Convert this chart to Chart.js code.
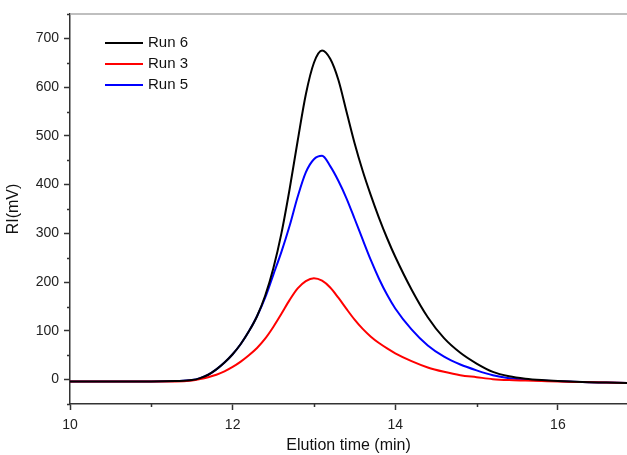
<!DOCTYPE html>
<html>
<head>
<meta charset="utf-8">
<script src="https://cdn.jsdelivr.net/npm/chart.js@4"></script>
<style>
  html, body { margin: 0; padding: 0; background: #fff; }
  #wrap { width: 627px; height: 455px; }
</style>
</head>
<body>
<div id="wrap"><canvas id="gpcChart"></canvas></div>
<script>
// === DATA ===
const time = [10, 10.5, 11, 11.3, 11.5, 11.6, 11.7, 11.8, 11.9, 12.0, 12.1, 12.2, 12.3, 12.4, 12.5,
  12.6, 12.7, 12.8, 12.9, 13.0, 13.1, 13.2, 13.3, 13.4, 13.5, 13.6, 13.7, 13.8, 13.9, 14.0,
  14.2, 14.4, 14.6, 14.8, 15.0, 15.2, 15.4, 15.6, 15.8, 16.0, 16.3, 16.6, 16.9];
const run6 = [-4, -4, -4, -3, -1, 3, 10, 21, 35, 52, 73, 99, 130, 172, 228,
  300, 390, 490, 585, 650, 675, 658, 615, 550, 485, 428, 378, 332, 290, 252,
  185, 128, 85, 55, 33, 16, 7, 2, -1, -3, -5, -6, -7];
const run3 = [-4, -4, -4, -4, -2, 1, 5, 10, 17, 26, 37, 50, 65, 84, 108,
  135, 163, 187, 202, 208, 203, 189, 168, 145, 123, 104, 88, 75, 64, 54,
  38, 25, 16, 9, 5, 1, -1, -2, -3, -4, -5, -6, -7];
const run5 = [-4, -4, -4, -3, -1, 3, 10, 21, 35, 52, 73, 99, 130, 168, 215,
  262, 315, 375, 425, 452, 459, 438, 408, 372, 330, 287, 245, 207, 174, 146,
  103, 70, 47, 31, 19, 9, 3, 0, -2, -3, -5, -6, -7];
const xTicks = [10, 12, 14, 16];
const yTicks = [0, 100, 200, 300, 400, 500, 600, 700];

const FONT = '"Liberation Sans", Arial, sans-serif';
const toPoints = ys => ys.map((y, i) => ({ x: time[i], y }));

// minor ticks (shorter), top frame line and legend inside the plot
const decor = {
  id: 'decor',
  afterDraw(chart) {
    const { ctx, chartArea: a, scales: { x, y } } = chart;
    ctx.save();
    // top frame
    ctx.strokeStyle = '#aaa';
    ctx.lineWidth = 1.5;
    ctx.beginPath();
    ctx.moveTo(a.left, a.top);
    ctx.lineTo(a.right, a.top);
    ctx.stroke();
    // minor ticks
    ctx.strokeStyle = '#333';
    ctx.lineWidth = 1.5;
    ctx.beginPath();
    for (let v = -50; v <= 750; v += 100) {
      const py = Math.round(y.getPixelForValue(v)) + 0.5;
      ctx.moveTo(a.left - 3, py);
      ctx.lineTo(a.left, py);
    }
    for (let v = 11; v <= 16; v += 2) {
      const px = Math.round(x.getPixelForValue(v)) + 0.5;
      ctx.moveTo(px, a.bottom);
      ctx.lineTo(px, a.bottom + 3);
    }
    ctx.stroke();
    // legend
    ctx.font = '15px ' + FONT;
    ctx.textBaseline = 'middle';
    ctx.fillStyle = '#111';
    chart.data.datasets.forEach((ds, i) => {
      const ly = 43 + i * 21;
      ctx.strokeStyle = ds.borderColor;
      ctx.lineWidth = 2;
      ctx.beginPath();
      ctx.moveTo(105, ly);
      ctx.lineTo(143, ly);
      ctx.stroke();
      ctx.fillText(ds.label, 148, ly);
    });
    ctx.restore();
  }
};

const gpcCtx = document.getElementById('gpcChart').getContext('2d');
new Chart(gpcCtx, {
  type: 'line',
  data: {
    datasets: [
      { label: 'Run 6', data: toPoints(run6), borderColor: '#000000' },
      { label: 'Run 3', data: toPoints(run3), borderColor: '#ff0000' },
      { label: 'Run 5', data: toPoints(run5), borderColor: '#0000ff' }
    ]
  },
  options: {
    responsive: true,
    maintainAspectRatio: false,
    animation: false,
    layout: { padding: { top: 14, right: 0, left: 0, bottom: 0 } },
    elements: {
      point: { radius: 0 },
      line: { borderWidth: 2, cubicInterpolationMode: 'monotone' }
    },
    plugins: {
      legend: { display: false },
      tooltip: { enabled: false }
    },
    scales: {
      x: {
        type: 'linear',
        min: 10,
        max: 16.85,
        afterFit: s => { s.height = 51; },
        grid: {
          drawOnChartArea: false,
          tickLength: 6,
          tickWidth: 1.5,
          tickColor: c => xTicks.includes(c.tick.value) ? '#333' : 'rgba(0,0,0,0)'
        },
        border: { color: '#333', width: 1.5 },
        ticks: {
          stepSize: 1,
          includeBounds: false,
          maxRotation: 0,
          padding: 7,
          color: '#222',
          font: { family: FONT, size: 14 },
          callback: v => xTicks.includes(v) ? String(v) : ''
        },
        title: {
          display: true,
          text: 'Elution time (min)',
          color: '#111',
          font: { family: FONT, size: 16 },
          padding: { top: 0, bottom: 0 }
        }
      },
      y: {
        min: -50,
        max: 750,
        afterFit: s => { s.width = 70; },
        grid: {
          drawOnChartArea: false,
          tickLength: 6,
          tickWidth: 1.5,
          tickColor: c => yTicks.includes(c.tick.value) ? '#333' : 'rgba(0,0,0,0)'
        },
        border: { color: '#333', width: 1.5 },
        ticks: {
          stepSize: 50,
          includeBounds: false,
          padding: 5,
          color: '#222',
          font: { family: FONT, size: 14 },
          callback: v => yTicks.includes(v) ? String(v) : ''
        },
        title: {
          display: true,
          text: 'RI(mV)',
          color: '#111',
          font: { family: FONT, size: 16 },
          padding: { top: 4, bottom: 0 }
        }
      }
    }
  },
  plugins: [decor]
});
</script>
</body>
</html>
